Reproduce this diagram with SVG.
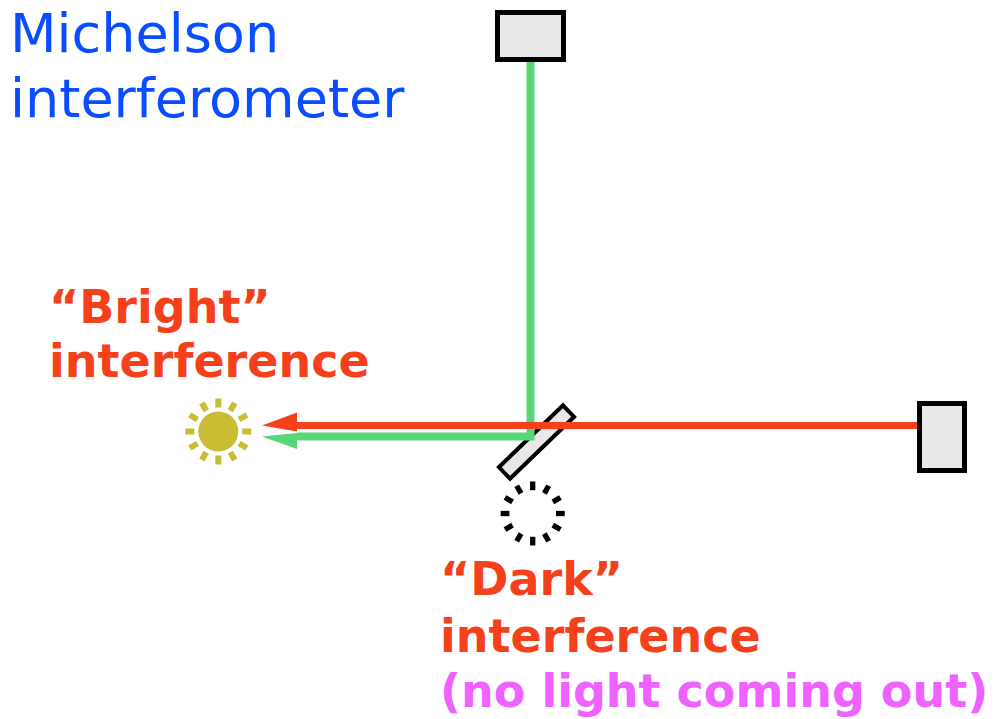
<svg xmlns="http://www.w3.org/2000/svg" width="1007" height="719" viewBox="0 0 1007 719">
<style>
.mirror{fill:#e8e8e8;stroke:#000;stroke-width:5}
.splitter{fill:#e8e8e8;stroke:#000;stroke-width:4}
.green{fill:none;stroke:#57d67a;stroke-width:8;stroke-linejoin:miter}
.red{fill:none;stroke:#f4411c;stroke-width:7}
.greenhead{fill:#57d67a}
.redhead{fill:#f4411c}
.title{font-family:"DejaVu Sans",Verdana,sans-serif;font-size:54px;fill:#0a4dff}
.lbl{font-family:"DejaVu Sans",Verdana,sans-serif;font-size:46px;font-weight:bold;fill:#f4411c}
.note{font-family:"DejaVu Sans",Verdana,sans-serif;font-size:46px;font-weight:bold;fill:#ee62ff}
.ray{stroke:#c9bd33;stroke-width:6}
.tick{stroke:#000;stroke-width:5.5}
</style>
<defs>
<g id="rays12" >
<line x1="0" y1="-24" x2="0" y2="-33" transform="rotate(0)"/>
<line x1="0" y1="-24" x2="0" y2="-33" transform="rotate(30)"/>
<line x1="0" y1="-24" x2="0" y2="-33" transform="rotate(60)"/>
<line x1="0" y1="-24" x2="0" y2="-33" transform="rotate(90)"/>
<line x1="0" y1="-24" x2="0" y2="-33" transform="rotate(120)"/>
<line x1="0" y1="-24" x2="0" y2="-33" transform="rotate(150)"/>
<line x1="0" y1="-24" x2="0" y2="-33" transform="rotate(180)"/>
<line x1="0" y1="-24" x2="0" y2="-33" transform="rotate(210)"/>
<line x1="0" y1="-24" x2="0" y2="-33" transform="rotate(240)"/>
<line x1="0" y1="-24" x2="0" y2="-33" transform="rotate(270)"/>
<line x1="0" y1="-24" x2="0" y2="-33" transform="rotate(300)"/>
<line x1="0" y1="-24" x2="0" y2="-33" transform="rotate(330)"/>
</g>
</defs>
<g id="title">
<text class="title" x="10" y="52">Michelson</text>
<text class="title" x="10" y="117">interferometer</text>
</g>
<g id="mirror-top"><rect class="mirror" x="497.5" y="12.5" width="66" height="47"/></g>
<g id="mirror-right"><rect class="mirror" x="919.5" y="403.5" width="45" height="67"/></g>
<g id="beam-splitter"><rect class="splitter" x="-44.5" y="-8" width="89" height="16" transform="translate(536.5 442) rotate(-44)"/></g>
<g id="connectors">
<polyline class="green" points="530.5,62 530.5,436.5 297,436.5"/>
<polygon class="greenhead" points="262,436.5 297,433 297,449"/>
<line class="red" x1="917" y1="425.5" x2="297" y2="425.5"/>
<polygon class="redhead" points="262,425.5 297,412.5 297,431.5"/>
</g>
<g id="sun">
<circle cx="218.3" cy="431.5" r="20" fill="#c9bd33"/>
<use href="#rays12" transform="translate(218.3 431.5)" class="ray"/>
</g>
<g id="dark-port">
<use href="#rays12" transform="translate(532.7 513.5) scale(0.97)" class="tick"/>
</g>
<g id="bright-label">
<text class="lbl" x="49" y="323">“Bright”</text>
<text class="lbl" x="49" y="377">interference</text>
</g>
<g id="dark-label">
<text class="lbl" x="440" y="595">“Dark”</text>
<text class="lbl" x="440" y="652">interference</text>
<text class="note" x="440" y="707">(no light coming out)</text>
</g>
</svg>
